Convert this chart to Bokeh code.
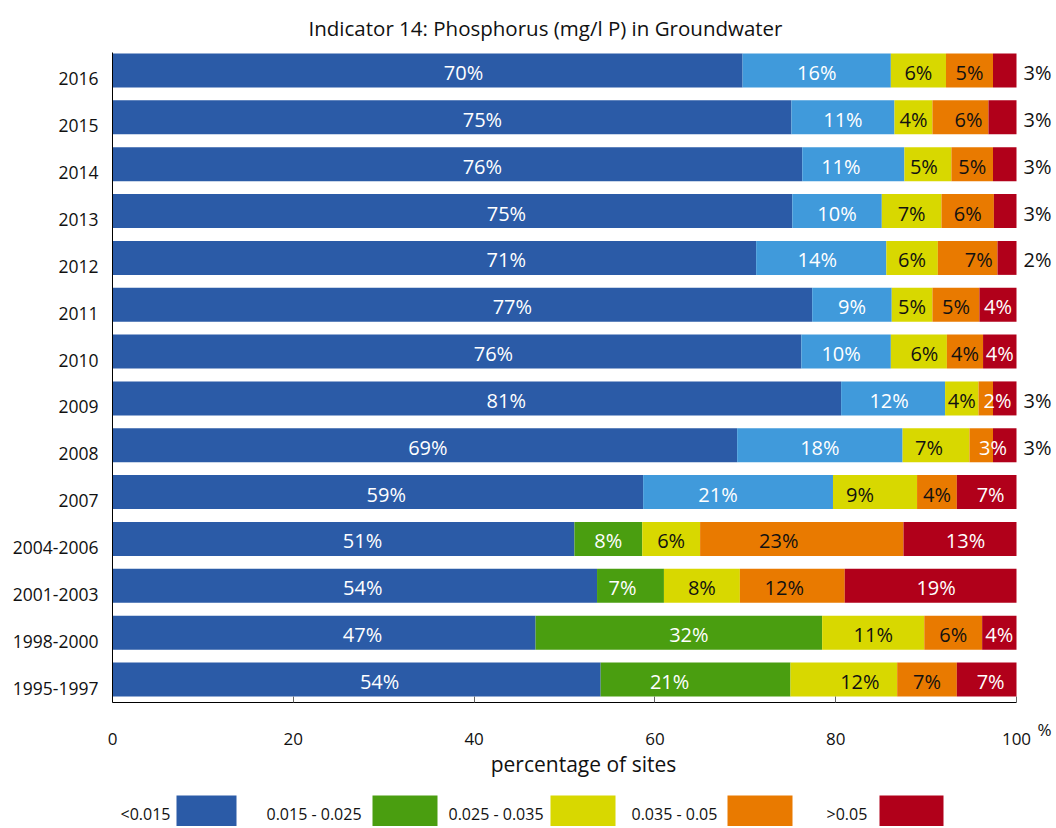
from bokeh.plotting import figure
from bokeh.models import ColumnDataSource, Range1d, FixedTicker, LinearAxis
from bokeh.layouts import column
from bokeh.embed import file_html
from bokeh.resources import INLINE
from bokeh.core.properties import value

# ---------------- data (bottom to top) ----------------
periods = ["1995-1997", "1998-2000", "2001-2003", "2004-2006", "2007", "2008", "2009",
           "2010", "2011", "2012", "2013", "2014", "2015", "2016"]
lt_0015 = [54.0, 46.8, 53.6, 51.1, 58.7, 69.1, 80.6, 76.2, 77.4, 71.2, 75.2, 76.3, 75.1, 69.7]
b0015_0025_recent = [0, 0, 0, 0, 21.0, 18.3, 11.5, 9.9, 8.8, 14.4, 9.9, 11.3, 11.4, 16.4]
b0015_0025 = [21.0, 31.7, 7.4, 7.5, 0, 0, 0, 0, 0, 0, 0, 0, 0, 0]
b0025_0035 = [11.8, 11.3, 8.4, 6.4, 9.3, 7.4, 3.7, 6.2, 4.5, 5.7, 6.6, 5.2, 4.2, 6.1]
b0035_005 = [6.6, 6.4, 11.6, 22.5, 4.4, 2.6, 1.6, 4.0, 5.2, 6.6, 5.8, 4.6, 6.2, 5.2]
gt_005 = [6.6, 3.8, 19.0, 12.5, 6.6, 2.6, 2.6, 3.7, 4.1, 2.1, 2.5, 2.6, 3.1, 2.6]

legend_labels = ["<0.015", "0.015 - 0.025", "0.025 - 0.035", "0.035 - 0.05", ">0.05"]
x_ticks = [0, 20, 40, 60, 80, 100]
title_text = "Indicator 14: Phosphorus (mg/l P) in Groundwater"
x_label = "percentage of sites"
unit_text = "%"

# ---------------- styles / layout ----------------
C_BLUE, C_LBLUE, C_GREEN = "#2B5BA7", "#409ADB", "#4A9E10"
C_YELLOW, C_ORANGE, C_RED = "#D8D800", "#E97A00", "#B1001A"
TXT = "#111111"
series = [lt_0015, b0015_0025_recent, b0015_0025, b0025_0035, b0035_005, gt_005]
colors = [C_BLUE, C_LBLUE, C_GREEN, C_YELLOW, C_ORANGE, C_RED]
text_cols = ["white", "white", "white", TXT, TXT, "white"]
legend_colors = [C_BLUE, C_GREEN, C_YELLOW, C_ORANGE, C_RED]
FONT = "Open Sans"

# horizontal nudges (px) of the in-bar value labels, as placed in the original
label_dx = [
    [23, 38.5, 8, 19, 8.5, 3, 29.5, 36.5, 50, 72, 54, 25, 30.5, 36],
    [0, 0, 0, 0, -20, 0, -4, -5, 0, -4, 0, -12.5, 0, 0],
    [-26, 10, -8, 0, 0, 0, 0, 0, 0, 0, 0, 0, 0, 0],
    [16, 0, 0, 0, -15, -7, 0, 5.5, 0, 0, 0, -4, 0, 0],
    [0, 0, -8, -23, 0, 0, 0, 0, 0, 11, 0, 0, 8, 0],
    [4, 0, 5.5, 5.5, 4, 0, 0, 0, 0, 0, 0, 0, 0, 0],
]

W = 1054
FRAME_L = 112
PX_PER_PCT = 9.04
X_END = 100 + (W - FRAME_L - 100 * PX_PER_PCT) / PX_PER_PCT
PITCH = 46.85
Y0, Y1 = -23 / PITCH, 13 + 18 / PITCH
LAB_SHIFT = 8.5 / PITCH
BAR_H = 0.726

# ---------------- title strip ----------------
TH = 44
tfig = figure(width=W, height=TH, x_range=Range1d(FRAME_L, W), y_range=Range1d(0, TH),
              x_axis_type=None, y_axis_type=None, output_backend="svg",
              toolbar_location=None, title=None, min_border=0,
              min_border_left=FRAME_L, min_border_right=0)
tfig.outline_line_color = None
tfig.grid.grid_line_color = None
tfig.text(x=[545], y=[TH - 27], text=[title_text], text_align="center",
          text_baseline="middle", text_font=value(FONT), text_font_size="20.5px",
          text_color=TXT)

# ---------------- main chart ----------------
p = figure(width=W, height=746, x_range=Range1d(0, X_END), y_range=Range1d(Y0, Y1),
           y_axis_type=None, output_backend="svg", toolbar_location=None, title=None,
           min_border_left=FRAME_L, min_border_right=0, min_border_top=8,
           min_border_bottom=88)
p.outline_line_color = None
p.grid.grid_line_color = None

ys = list(range(len(periods)))
left = [0.0] * len(periods)
inside = dict(x=[], y=[], text=[], color=[], dx=[])
outside = dict(x=[], y=[], text=[])
for k, (vals, col) in enumerate(zip(series, colors)):
    right = [l + v for l, v in zip(left, vals)]
    src = ColumnDataSource(dict(y=ys, left=left, right=right))
    p.hbar(y="y", left="left", right="right", height=BAR_H, source=src,
           fill_color=col, line_color=None)
    for i, v in enumerate(vals):
        if v <= 0:
            continue
        txt = f"{int(v + 0.5)}%"
        if k == 5 and v < 3.5:
            outside["x"].append(right[i]); outside["y"].append(i); outside["text"].append(txt)
            continue
        cx = (left[i] + right[i]) / 2
        tc = text_cols[k]
        if k == 4 and v < 3:
            cx = (left[i] + 100) / 2
            tc = "white"
        inside["x"].append(cx); inside["y"].append(i); inside["text"].append(txt)
        inside["color"].append(tc); inside["dx"].append(label_dx[k][i])
    left = right

p.text(x="x", y="y", text="text", source=ColumnDataSource(inside), text_color="color",
       text_align="center", text_baseline="middle", text_font=value(FONT),
       text_font_size="20px", x_offset="dx", y_offset=2)
p.text(x="x", y="y", text="text", source=ColumnDataSource(outside), text_color=TXT,
       text_align="left", text_baseline="middle", text_font=value(FONT),
       text_font_size="20px", x_offset=7, y_offset=2)

# x axis: line, inward ticks, labels, title
xa = p.xaxis[0]
xa.ticker = FixedTicker(ticks=x_ticks)
xa.bounds = (0, 100)
xa.major_tick_in = 6
xa.major_tick_out = 0
xa.major_tick_line_color = "#666666"
xa.minor_tick_line_color = None
xa.axis_line_color = "black"
xa.major_label_standoff = 30
xa.major_label_text_font = FONT
xa.major_label_text_font_size = "17px"
xa.major_label_text_color = TXT
xa.axis_label = x_label
xa.axis_label_text_font = FONT
xa.axis_label_text_font_size = "21px"
xa.axis_label_text_font_style = "normal"
xa.axis_label_text_color = TXT
xa.axis_label_standoff = 2

# unit "%" next to 100 (second, label-only axis)
unit_pos = 100 + 28 / PX_PER_PCT
ua = LinearAxis(ticker=FixedTicker(ticks=[unit_pos]), major_label_overrides={unit_pos: unit_text},
                axis_line_color=None, major_tick_line_color=None, minor_tick_line_color=None,
                major_label_standoff=-69, major_label_text_font=FONT,
                major_label_text_font_size="17px", major_label_text_color=TXT)
p.add_layout(ua, "below")

# y axis with category labels (slightly lowered via extra range)
p.extra_y_ranges = {"lab": Range1d(Y0 + LAB_SHIFT, Y1 + LAB_SHIFT)}
ya = LinearAxis(y_range_name="lab", ticker=FixedTicker(ticks=ys),
                major_label_overrides={i: s for i, s in zip(ys, periods)},
                major_tick_in=0, major_tick_out=0, minor_tick_line_color=None,
                axis_line_color="black", major_label_standoff=14,
                major_label_text_font=FONT, major_label_text_font_size="17.5px",
                major_label_text_color=TXT)
p.add_layout(ya, "left")

# ---------------- legend strip ----------------
LH = 36
leg = figure(width=W, height=LH, x_range=Range1d(FRAME_L, W), y_range=Range1d(0, LH),
             x_axis_type=None, y_axis_type=None, output_backend="svg",
             toolbar_location=None, title=None, min_border=0,
             min_border_left=FRAME_L, min_border_right=0)
leg.outline_line_color = None
leg.grid.grid_line_color = None
box_left = [176, 372, 550, 727, 879]
box_w = [60, 65, 65, 65, 64]
text_left = [120, 266, 448, 631, 826]
leg.quad(left=box_left, right=[a + b for a, b in zip(box_left, box_w)],
         bottom=[-12] * 5, top=[LH - 5] * 5, fill_color=legend_colors, line_color=None)
leg.text(x=text_left, y=[LH - 23] * 5, text=legend_labels, text_align="left",
         text_baseline="middle", text_font=value(FONT), text_font_size="16px",
         text_color=TXT)

layout = column(tfig, p, leg, spacing=0)
open("out.html", "w").write(file_html(layout, INLINE))
